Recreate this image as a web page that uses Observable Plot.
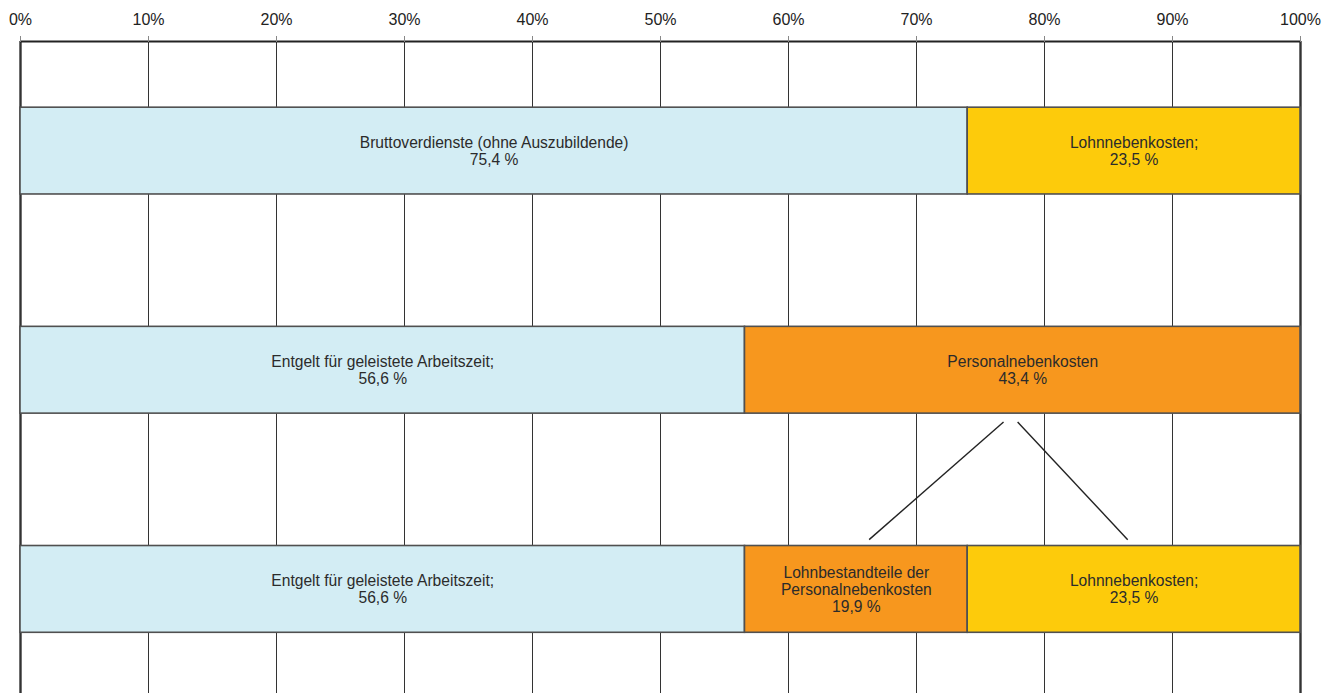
<!DOCTYPE html>
<html><head><meta charset="utf-8">
<script src="https://cdn.jsdelivr.net/npm/d3@7"></script>
<script src="https://cdn.jsdelivr.net/npm/@observablehq/plot@0.6"></script>
<style>html,body{margin:0;padding:0;background:#fff} svg{display:block}</style>
</head><body><div id="chart"></div>
<script>
// ---- data ----
const rowIndex = [0, 0, 1, 1, 2, 2, 2];
const segmentKind = ["Entgelt", "Lohnnebenkosten", "Entgelt", "Personalnebenkosten", "Entgelt", "Lohnbestandteile", "Lohnnebenkosten"];
const segmentShare = [74.0, 26.0, 56.6, 43.4, 56.6, 17.4, 26.0];
const segmentLabel = [
  "Bruttoverdienste (ohne Auszubildende)\n75,4 %",
  "Lohnnebenkosten;\n23,5 %",
  "Entgelt für geleistete Arbeitszeit;\n56,6 %",
  "Personalnebenkosten\n43,4 %",
  "Entgelt für geleistete Arbeitszeit;\n56,6 %",
  "Lohnbestandteile der\nPersonalnebenkosten\n19,9 %",
  "Lohnnebenkosten;\n23,5 %"
];
const tickValues = [0, 10, 20, 30, 40, 50, 60, 70, 80, 90, 100];
const connectorTop = [76.8, 77.9];
const connectorBottom = [66.3, 86.5];
const kinds = ["Entgelt", "Lohnnebenkosten", "Personalnebenkosten", "Lohnbestandteile"];
const kindColors = ["#d3edf4", "#fdcb0b", "#f7971e", "#f7971e"];

// ---- build tables ----
const offsets = {};
const segments = segmentShare.map((v, i) => {
  const r = rowIndex[i];
  const x1 = offsets[r] || 0;
  offsets[r] = x1 + v;
  return {row: r, kind: segmentKind[i], x1, x2: x1 + v, label: segmentLabel[i]};
});
const connectors = connectorTop.map((t, i) => ({top: t, bottom: connectorBottom[i]}));

const half = 0.198;
const yMax = 2.975;

const chart = Plot.plot({
  width: 1338,
  height: 693,
  marginLeft: 20,
  marginRight: 38,
  marginTop: 41,
  marginBottom: 0,
  style: {fontFamily: "'Liberation Sans', Arial, sans-serif", background: "#fff"},
  x: {domain: [0, 100]},
  y: {domain: [0, yMax], reverse: true, axis: null},
  color: {domain: kinds, range: kindColors},
  marks: [
    Plot.ruleX(tickValues, {x: d => d, y1: () => 0, y2: () => yMax, stroke: "#333",
      strokeWidth: d => (d === 0 || d === 100) ? 2.4 : 1}),
    Plot.rect(segments, {x1: "x1", x2: "x2", y1: d => d.row + 0.5 - half, y2: d => d.row + 0.5 + half,
      fill: "kind", stroke: "#505050", strokeWidth: 1.6}),
    Plot.link(connectors, {x1: "top", x2: "bottom", y1: () => 1.736, y2: () => 2.273,
      stroke: "#222", strokeWidth: 1.4}),
    Plot.ruleY([0], {stroke: "#222", strokeWidth: 2.2}),
    Plot.text(segments, {x: d => (d.x1 + d.x2) / 2, y: d => d.row + 0.5, text: "label",
      fontSize: 15.6, fill: "#2b2b2b", lineHeight: 1.1}),
    Plot.axisX(tickValues, {anchor: "top", tickFormat: d => d + "%", tickSize: 6, tickPadding: 11,
      fontSize: 16, fill: "#222", stroke: "#888", label: null})
  ]
});
document.getElementById("chart").appendChild(chart);
</script>
</body></html>
